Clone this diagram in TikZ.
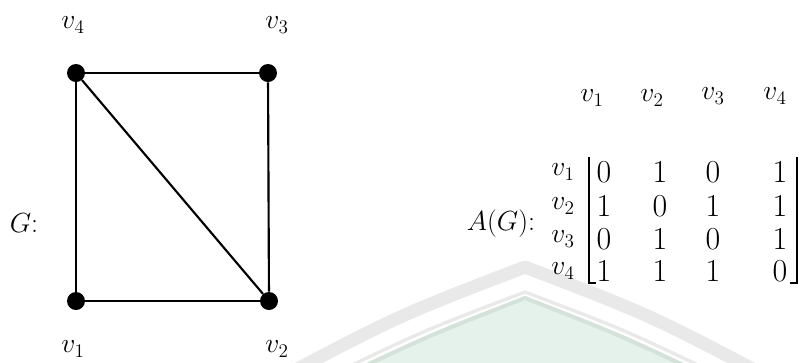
\documentclass[tikz,border=0pt]{standalone}
\definecolor{wmgrey}{RGB}{233,233,233}
\definecolor{wmfill}{RGB}{229,242,235}
\definecolor{wmline}{RGB}{212,226,217}
\begin{document}
\begin{tikzpicture}[x=0.75pt,y=-0.75pt,
  dot/.style={circle,fill=black,inner sep=0pt,minimum size=13.5pt},
  edge/.style={line width=1.6pt},
  lbl/.style={font=\fontsize{21}{24}\selectfont,inner sep=0pt},
  ent/.style={font=\fontsize{24}{28}\selectfont,inner sep=0pt},
  brk/.style={line width=1.4pt}]
\useasboundingbox (0,0) rectangle (801,362);
% faint watermark
\begin{scope}
\clip (0,0) rectangle (801,362);
\draw[wmgrey,line width=9.75pt,line join=round] (280,378) .. controls (400,315) .. (525,267) .. controls (650,315) .. (770,378);
\fill[wmfill] (335,380) .. controls (430,335) .. (525,298) .. controls (620,335) .. (715,380) -- cycle;
\draw[wmline,line width=3pt] (335,380) .. controls (430,335) .. (525,298) .. controls (620,335) .. (715,380);
\draw[wmgrey,line width=2.5pt] (325,378) .. controls (425,330) .. (525,292) .. controls (625,330) .. (725,378);
\end{scope}
% graph G
\node[dot] (v1) at (76,301) {};
\node[dot] (v2) at (269,301) {};
\node[dot] (v3) at (268,73) {};
\node[dot] (v4) at (76,73) {};
\draw[edge] (v1) -- (v2);
\draw[edge] (v2) -- (v3);
\draw[edge] (v3) -- (v4);
\draw[edge] (v4) -- (v1);
\draw[edge] (v4) -- (v2);
\node[lbl] (l4) at (73,25) {$v_4$};
\node[lbl] (l3) at (277,25) {$v_3$};
\node[lbl] (l1) at (73,349) {$v_1$};
\node[lbl] (l2) at (277,349) {$v_2$};
\node[lbl] (G) at (24,223) {$G$:};
% adjacency matrix
\node[lbl] (AG) at (501,224) {$A(G)$:};
\node[lbl] (c1) at (592,98) {$v_1$};
\node[lbl] (c2) at (652,98) {$v_2$};
\node[lbl] (c3) at (713,96) {$v_3$};
\node[lbl] (c4) at (775,96) {$v_4$};
\node[lbl] (r1) at (563,172) {$v_1$};
\node[lbl] (r2) at (563,206) {$v_2$};
\node[lbl] (r3) at (563,239) {$v_3$};
\node[lbl] (r4) at (563,271) {$v_4$};
\node[ent] (m11) at (604,172) {0};
\node[ent] (m12) at (660,172) {1};
\node[ent] (m13) at (713,172) {0};
\node[ent] (m14) at (780,172) {1};
\node[ent] (m21) at (604,206) {1};
\node[ent] (m22) at (660,206) {0};
\node[ent] (m23) at (713,206) {1};
\node[ent] (m24) at (780,206) {1};
\node[ent] (m31) at (604,239) {0};
\node[ent] (m32) at (660,239) {1};
\node[ent] (m33) at (713,239) {0};
\node[ent] (m34) at (780,239) {1};
\node[ent] (m41) at (604,271) {1};
\node[ent] (m42) at (660,271) {1};
\node[ent] (m43) at (713,271) {1};
\node[ent] (m44) at (780,271) {0};
\coordinate (lbt) at (589,157);
\coordinate (lbb) at (589,283);
\coordinate (lbe) at (596,283);
\coordinate (rbt) at (797,157);
\coordinate (rbb) at (797,283);
\coordinate (rbe) at (790,283);
\draw[brk] (lbt) -- (lbb) -- (lbe);
\draw[brk] (rbt) -- (rbb) -- (rbe);
\end{tikzpicture}
\end{document}
